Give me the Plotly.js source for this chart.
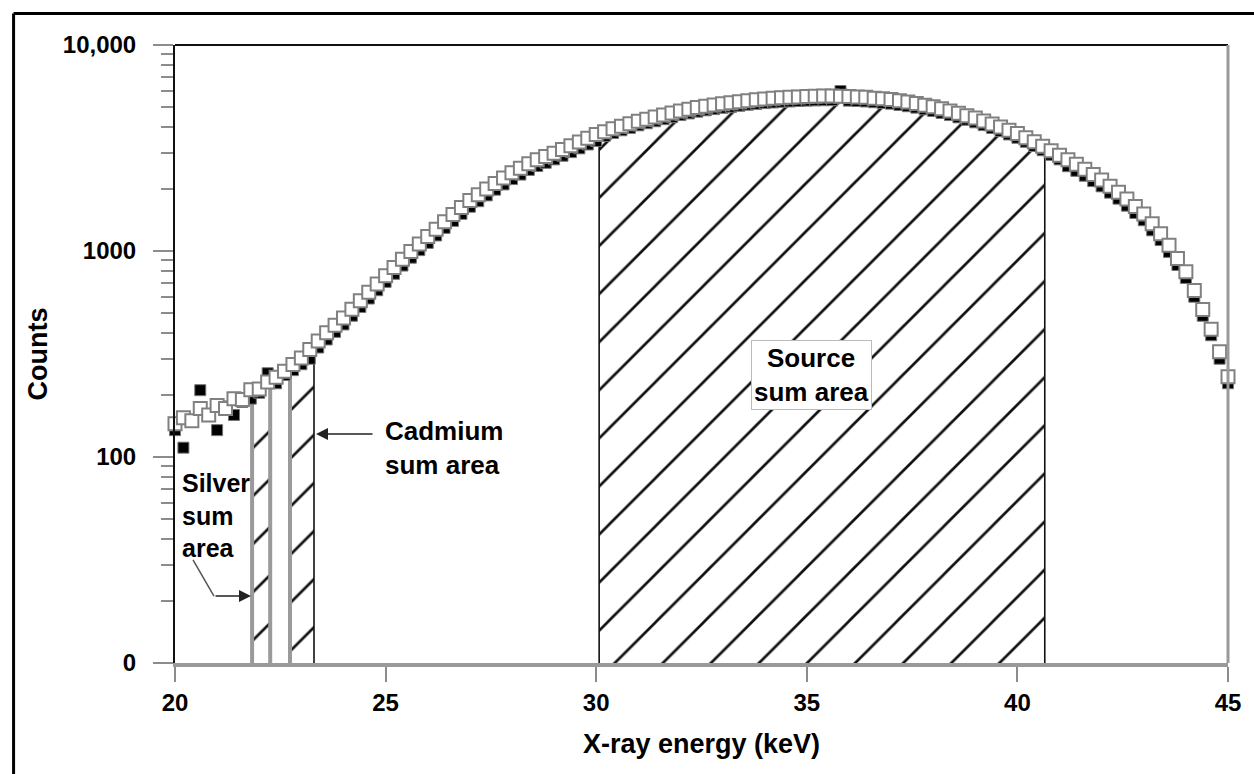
<!DOCTYPE html>
<html><head><meta charset="utf-8">
<script src="https://cdn.plot.ly/plotly-3.0.1.min.js"></script>
<style>html,body{margin:0;padding:0;background:#fff;} #chart{width:1254px;height:774px;}</style>
</head><body><div id="chart"></div>
<script>
// X-ray energy (keV)
const energy = [
 20.0,20.2,20.4,20.6,20.8, 21.0,21.2,21.4,21.6,21.8,
 22.0,22.2,22.4,22.6,22.8, 23.0,23.2,23.4,23.6,23.8,
 24.0,24.2,24.4,24.6,24.8, 25.0,25.2,25.4,25.6,25.8,
 26.0,26.2,26.4,26.6,26.8, 27.0,27.2,27.4,27.6,27.8,
 28.0,28.2,28.4,28.6,28.8, 29.0,29.2,29.4,29.6,29.8,
 30.0,30.2,30.4,30.6,30.8, 31.0,31.2,31.4,31.6,31.8,
 32.0,32.2,32.4,32.6,32.8, 33.0,33.2,33.4,33.6,33.8,
 34.0,34.2,34.4,34.6,34.8, 35.0,35.2,35.4,35.6,35.8,
 36.0,36.2,36.4,36.6,36.8, 37.0,37.2,37.4,37.6,37.8,
 38.0,38.2,38.4,38.6,38.8, 39.0,39.2,39.4,39.6,39.8,
 40.0,40.2,40.4,40.6,40.8, 41.0,41.2,41.4,41.6,41.8,
 42.0,42.2,42.4,42.6,42.8, 43.0,43.2,43.4,43.6,43.8,
 44.0,44.2,44.4,44.6,44.8, 45.0
];
// Counts, open-square series
const countsOpen = [
 145,155,150,172,160, 178,172,192,190,212,
 214,231,244,261,281, 302,333,366,401,436,
 473,521,574,631,692, 759,832,912,995,1081,
 1175,1276,1387,1503,1626, 1758,1875,2000,2128,2259,
 2399,2523,2655,2773,2877, 2985,3112,3243,3381,3524,
 3673,3793,3917,4036,4150, 4266,4365,4467,4571,4677,
 4786,4875,4966,5047,5117, 5188,5248,5309,5370,5420,
 5470,5508,5546,5572,5598, 5623,5636,5649,5649,5636,
 5623,5598,5572,5521,5483, 5433,5358,5284,5200,5105,
 5012,4898,4786,4667,4539, 4416,4276,4140,4000,3855,
 3715,3548,3388,3228,3069, 2917,2773,2636,2495,2350,
 2213,2065,1928,1786,1644, 1514,1355,1213,1067,920,
 794,643,520,417,324, 245
];
// Counts, filled-square series
const countsFilled = [
 135,111,150,211,158, 135,176,160,185,192,
 205,255,228,250,264, 282,300,340,372,405,
 440,485,535,588,645, 708,775,850,928,1010,
 1095,1190,1295,1400,1515, 1640,1745,1862,1985,2105,
 2235,2350,2475,2585,2680, 2785,2900,3020,3150,3290,
 3420,3620,3740,3855,3960, 4075,4170,4265,4365,4465,
 4570,4655,4745,4820,4885, 4955,5010,5070,5130,5175,
 5225,5260,5300,5320,5350, 5370,5385,5395,5400,5980,
 5370,5345,5320,5275,5235, 5190,5115,5045,4965,4875,
 4785,4680,4570,4455,4335, 4215,4085,3955,3820,3680,
 3545,3390,3235,3085,2930, 2785,2580,2450,2320,2185,
 2060,1920,1795,1660,1530, 1410,1260,1130,990,855,
 740,600,485,390,300, 228
];
// Sum-area windows (keV)
const silverArea = [21.83, 22.26];
const cadmiumArea = [22.73, 23.30];
const sourceArea = [30.07, 40.65];

const xTickVals = [20, 25, 30, 35, 40, 45];
const yTickVals = [10, 100, 1000, 10000];
const yTickText = ['0', '100', '1000', '10,000'];
const yMinorVals = [20,30,40,50,60,70,80,90, 200,300,400,500,600,700,800,900, 2000,3000,4000,5000,6000,7000,8000,9000];
const yBottom = 10;

function curveAt(x) {
  for (let i = 0; i < energy.length - 1; i++) {
    if (x >= energy[i] && x <= energy[i+1]) {
      const t = (x - energy[i]) / (energy[i+1] - energy[i]);
      const a = Math.log10(countsOpen[i]), b = Math.log10(countsOpen[i+1]);
      return Math.pow(10, a + t * (b - a));
    }
  }
  return countsOpen[countsOpen.length - 1];
}
function areaPolygon(r) {
  const xs = [r[0]], ys = [curveAt(r[0])];
  energy.forEach((e, i) => { if (e > r[0] && e < r[1]) { xs.push(e); ys.push(countsOpen[i]); } });
  xs.push(r[1], r[1], r[0], r[0]);
  ys.push(curveAt(r[1]), yBottom, yBottom, curveAt(r[0]));
  return {x: xs, y: ys};
}
function hatchTrace(r) {
  const p = areaPolygon(r);
  return {x: p.x, y: p.y, mode: 'lines', line: {width: 0, color: 'rgba(0,0,0,0)'},
    fill: 'toself', fillcolor: 'rgba(255,255,255,0)',
    fillpattern: {shape: '/', fgcolor: '#111', bgcolor: 'rgba(255,255,255,0)', size: 34, solidity: 0.08},
    hoverinfo: 'skip', showlegend: false};
}
function boundary(x, color, width) {
  return {x: [x, x], y: [yBottom, curveAt(x)], mode: 'lines', line: {color: color, width: width},
    hoverinfo: 'skip', showlegend: false};
}

const traces = [
  hatchTrace(silverArea), hatchTrace(cadmiumArea), hatchTrace(sourceArea),
  boundary(silverArea[0], '#9a9a9a', 4), boundary(silverArea[1], '#9a9a9a', 4),
  boundary(cadmiumArea[0], '#9a9a9a', 4), boundary(cadmiumArea[1], '#111', 1.6),
  boundary(sourceArea[0], '#111', 1.6), boundary(sourceArea[1], '#111', 1.6),
  {x: energy, y: countsFilled, mode: 'markers', name: 'filled', cliponaxis: false,
   marker: {symbol: 'square', size: 11, color: '#000', line: {color: '#777', width: 1}}, showlegend: false},
  {x: energy, y: countsOpen, mode: 'markers', name: 'open', cliponaxis: false,
   marker: {symbol: 'square', size: 13, color: '#fff', line: {color: '#808080', width: 2}}, showlegend: false}
];

const F = '"Liberation Sans", Arial, Helvetica, sans-serif';
const layout = {
  width: 1254, height: 774,
  margin: {l: 175, r: 26, t: 45, b: 111},
  paper_bgcolor: '#fff', plot_bgcolor: '#fff',
  showlegend: false,
  font: {family: F, size: 24, color: '#000'},
  xaxis: {range: [20, 45], tickvals: xTickVals, ticks: 'outside', ticklen: 15, tickwidth: 2, tickcolor: '#8c8c8c',
    showline: true, linecolor: '#9a9a9a', linewidth: 4, showgrid: false, zeroline: false,
    tickfont: {family: F, size: 24, weight: 700, color: '#000'},
    title: {text: 'X-ray energy (keV)', font: {family: F, size: 27, weight: 700, color: '#000'}, standoff: 20},
    automargin: false},
  yaxis: {type: 'log', range: [1, 4], tickvals: yTickVals, ticktext: yTickText, ticks: 'outside', ticklen: 20,
    tickwidth: 2, tickcolor: '#8c8c8c',
    minor: {tickvals: yMinorVals, ticks: 'outside', ticklen: 12, tickwidth: 2, tickcolor: '#8c8c8c', showgrid: false},
    showline: true, linecolor: '#111', linewidth: 2, showgrid: false, zeroline: false,
    ticklabelstandoff: 12,
    tickfont: {family: F, size: 24, weight: 700, color: '#000'},
    title: {text: 'Counts', font: {family: F, size: 27, weight: 700, color: '#000'}, standoff: 7},
    automargin: false},
  shapes: [
    {type: 'line', xref: 'paper', yref: 'paper', x0: 0, x1: 1, y0: 1, y1: 1, line: {color: '#111', width: 2}},
    {type: 'line', xref: 'paper', yref: 'paper', x0: 1, x1: 1, y0: 0, y1: 1, line: {color: '#9a9a9a', width: 3}},
    {type: 'line', xref: 'paper', yref: 'paper', x0: -0.1533, x1: 1.04, y0: 1.0510, y1: 1.0510, line: {color: '#000', width: 3}},
    {type: 'line', xref: 'paper', yref: 'paper', x0: -0.1533, x1: -0.1533, y0: -0.2, y1: 1.0510, line: {color: '#000', width: 3}},
    {type: 'line', xref: 'paper', yref: 'paper', x0: 0.0171, y0: 0.1667, x1: 0.037, y1: 0.1084, line: {color: '#555', width: 1.5}}
  ],
  annotations: [
    {xref: 'paper', yref: 'paper', x: 0.604, y: 0.466, xanchor: 'center', yanchor: 'middle', text: '<b>Source<br>sum area</b>', showarrow: false,
     font: {family: F, size: 26, color: '#000'}, bgcolor: '#fff', bordercolor: '#bbb', borderwidth: 1, borderpad: 2, align: 'center'},
    {xref: 'paper', yref: 'paper', x: 0.1975, y: 0.348, xanchor: 'left', yanchor: 'middle', text: '<b>Cadmium<br>sum area</b>', showarrow: false,
     font: {family: F, size: 26, color: '#000'}, align: 'left'},
    {xref: 'paper', yref: 'paper', x: 0.0048, y: 0.238, xanchor: 'left', yanchor: 'middle', text: '<b>Silver<br>sum<br>area</b>', showarrow: false,
     font: {family: F, size: 25, color: '#000'}, align: 'left'},
    {xref: 'paper', yref: 'paper', x: 0.1339, y: 0.3706, text: '', showarrow: true, ax: 58, ay: 0,
     arrowhead: 2, arrowsize: 1.6, arrowwidth: 1.5, arrowcolor: '#222'},
    {xref: 'paper', yref: 'paper', x: 0.0722, y: 0.1084, text: '', showarrow: true, ax: -37, ay: 0,
     arrowhead: 2, arrowsize: 1.6, arrowwidth: 1.5, arrowcolor: '#222'}
  ]
};
Plotly.newPlot('chart', traces, layout, {displayModeBar: false, staticPlot: true});
</script></body></html>
